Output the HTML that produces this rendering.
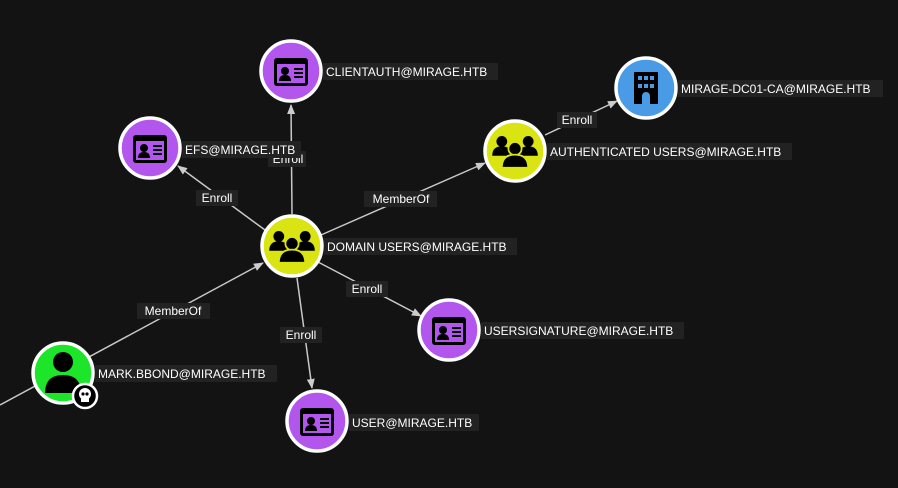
<!DOCTYPE html>
<html><head><style>
html,body{margin:0;padding:0;background:#131313;}
svg{display:block}
text{font-family:"Liberation Sans",sans-serif;font-size:12px;fill:#fff;}
</style></head><body>
<svg width="898" height="488" viewBox="0 0 898 488">
<defs>
<marker id="ar" markerWidth="10" markerHeight="8" refX="9" refY="4" orient="auto" markerUnits="userSpaceOnUse">
<path d="M0,0 L10,4 L0,8 z" fill="#ccc"/></marker>
<g id="card">
<rect x="-17" y="-14" width="34" height="28" rx="3" fill="#000"/>
<rect x="-14" y="-8" width="28" height="19" fill="#b356ee"/>
<circle cx="-6" cy="-1" r="4" fill="#000"/>
<path d="M-12,9 q0,-6 6,-6 q6,0 6,6 z" fill="#000"/>
<rect x="3" y="-4" width="9" height="2" fill="#000"/>
<rect x="3" y="0" width="9" height="2" fill="#000"/>
<rect x="3" y="4" width="9" height="2" fill="#000"/>
</g>
<g id="grp" fill="#000" transform="scale(1.2)">
<circle cx="-11" cy="-8" r="4.5"/><circle cx="11" cy="-8" r="4.5"/>
<path d="M-19,4 q0,-8 8,-8 q8,0 8,8 z"/><path d="M3,4 q0,-8 8,-8 q8,0 8,8 z"/>
<circle cx="0" cy="-2" r="5.5" stroke="#d9e412" stroke-width="1.5"/>
<path d="M-11,14 q0,-11 11,-11 q11,0 11,11 z" stroke="#d9e412" stroke-width="1.5"/>
</g>
</defs>
<g stroke="#c8c8c8" stroke-width="1.5" fill="none">
<line x1="292" y1="214" x2="291" y2="105" marker-end="url(#ar)"/>
<line x1="265" y1="230" x2="178" y2="166" marker-end="url(#ar)"/>
<line x1="321" y1="235" x2="485" y2="163" marker-end="url(#ar)"/>
<line x1="545" y1="135" x2="617" y2="101" marker-end="url(#ar)"/>
<line x1="318" y1="262" x2="421" y2="316" marker-end="url(#ar)"/>
<line x1="297" y1="278" x2="312" y2="388" marker-end="url(#ar)"/>
<line x1="0" y1="405" x2="263" y2="263" marker-end="url(#ar)"/>
</g>
<g fill="#222">
<rect x="268" y="151" width="38" height="16"/>
<rect x="196" y="190" width="42" height="16"/>
<rect x="364" y="191" width="73" height="16"/>
<rect x="557" y="112" width="40" height="16"/>
<rect x="346" y="281" width="42" height="16"/>
<rect x="280" y="327" width="42" height="16"/>
<rect x="137" y="303" width="73" height="16"/>
</g>
<g text-anchor="middle">
<text x="288" y="163">Enroll</text>
<text x="217" y="202">Enroll</text>
<text x="401" y="203">MemberOf</text>
<text x="577" y="124">Enroll</text>
<text x="367" y="293">Enroll</text>
<text x="301" y="339">Enroll</text>
<text x="173" y="315">MemberOf</text>
</g>
<g stroke="#fff" stroke-width="3.5">
<circle cx="292" cy="246" r="30" fill="#d9e412"/>
<circle cx="291" cy="71" r="30" fill="#b356ee"/>
<circle cx="150" cy="148" r="30" fill="#b356ee"/>
<circle cx="515" cy="151" r="30" fill="#d9e412"/>
<circle cx="646" cy="88" r="30" fill="#4a9be6"/>
<circle cx="449" cy="330" r="30" fill="#b356ee"/>
<circle cx="317" cy="421" r="30" fill="#b356ee"/>
<circle cx="63" cy="373" r="30" fill="#1de62a"/>
</g>
<use href="#grp" x="292" y="246"/>
<use href="#grp" x="515" y="151"/>
<use href="#card" x="291" y="72"/>
<use href="#card" x="150" y="149"/>
<use href="#card" x="449" y="331"/>
<use href="#card" x="317" y="422"/>
<path d="M634,72 h24 v32 h-8 v-8 a4,4 0 0 0 -8,0 v8 h-8 z" fill="#000"/>
<g fill="#4a9be6">
<rect x="638" y="76" width="4" height="4"/><rect x="644" y="76" width="4" height="4"/><rect x="650" y="76" width="4" height="4"/>
<rect x="638" y="84" width="4" height="4"/><rect x="644" y="84" width="4" height="4"/><rect x="650" y="84" width="4" height="4"/>
</g>
<g fill="#000">
<circle cx="63" cy="362" r="10"/>
<path d="M45,393 q0,-18 18,-18 q18,0 18,18 z"/>
</g>
<circle cx="85" cy="396" r="12" fill="#000" stroke="#fff" stroke-width="2.5"/>
<circle cx="85" cy="394" r="6" fill="#fff"/>
<rect x="81" y="397" width="8" height="5" fill="#fff"/>
<circle cx="83" cy="394" r="1.6" fill="#000"/><circle cx="87" cy="394" r="1.6" fill="#000"/>
<g fill="#222">
<rect x="324" y="238" width="193" height="17"/>
<rect x="323" y="63" width="175" height="17"/>
<rect x="182" y="141" width="119" height="17"/>
<rect x="547" y="143" width="245" height="17"/>
<rect x="678" y="80" width="205" height="17"/>
<rect x="481" y="322" width="203" height="17"/>
<rect x="349" y="414" width="130" height="17"/>
<rect x="95" y="365" width="182" height="17"/>
</g>
<text x="327" y="251">DOMAIN USERS@MIRAGE.HTB</text>
<text x="326" y="76">CLIENTAUTH@MIRAGE.HTB</text>
<text x="185" y="154">EFS@MIRAGE.HTB</text>
<text x="550" y="156">AUTHENTICATED USERS@MIRAGE.HTB</text>
<text x="681" y="93">MIRAGE-DC01-CA@MIRAGE.HTB</text>
<text x="484" y="335">USERSIGNATURE@MIRAGE.HTB</text>
<text x="352" y="427">USER@MIRAGE.HTB</text>
<text x="98" y="378">MARK.BBOND@MIRAGE.HTB</text>
</svg>
</body></html>
